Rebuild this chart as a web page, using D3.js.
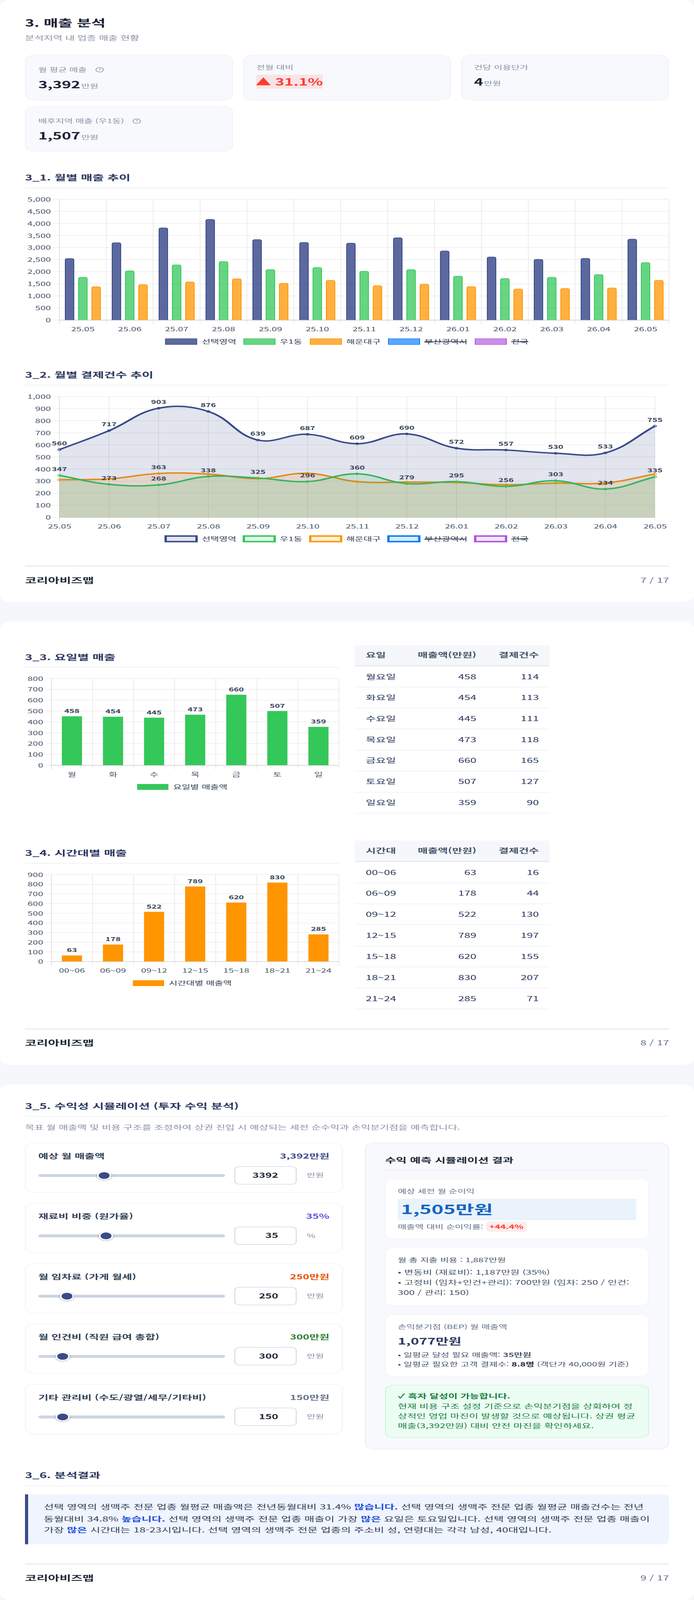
<!DOCTYPE html>
<html lang="ko">
<head>
<meta charset="utf-8">
<title>매출 분석</title>
<script src="https://d3js.org/d3.v7.min.js"></script>
<style>
html, body { margin: 0; padding: 0; background: #f5f7fb; overflow: hidden; }
svg { display: block; font-family: "Noto Sans CJK KR", "Noto Sans", sans-serif; }
.axis path { display: none; }
</style>
</head>
<body>
<script>
// chart data
var months = ["25.05","25.06","25.07","25.08","25.09","25.10","25.11","25.12","26.01","26.02","26.03","26.04","26.05"];
var salesSelected = [2540,3197,3808,4162,3325,3207,3179,3401,2857,2606,2507,2550,3344];
var salesDong = [1764,2034,2280,2422,2086,2171,2015,2086,1816,1717,1764,1878,2374];
var salesGu = [1376,1462,1575,1703,1518,1641,1424,1480,1381,1282,1305,1324,1641];
var countSelected = [560,717,903,876,639,687,609,690,572,557,530,533,755];
var countDong = [347,273,268,338,325,296,360,279,295,256,303,234,335];
var countGu = [311,318,363,358,320,364,295,291,288,270,283,284,358];
var countGuLabelled = ["25.07"]; // the other orange labels are hidden in the report
var legendNames = ["선택영역","우1동","해운대구","부산광역시","전국"];
var salesTicks = [0,500,1000,1500,2000,2500,3000,3500,4000,4500,5000];
var countTicks = [0,100,200,300,400,500,600,700,800,900,1000];

var weekdays = ["월","화","수","목","금","토","일"];
var weekdayNames = ["월요일","화요일","수요일","목요일","금요일","토요일","일요일"];
var weekdaySales = [458,454,445,473,660,507,359];
var weekdayCounts = [114,113,111,118,165,127,90];
var weekdayTicks = [0,100,200,300,400,500,600,700,800];

var hours = ["00~06","06~09","09~12","12~15","15~18","18~21","21~24"];
var hourSales = [63,178,522,789,620,830,285];
var hourCounts = [16,44,130,197,155,207,71];
var hourTicks = [0,100,200,300,400,500,600,700,800,900];

var sliderNames = ["예상 월 매출액","재료비 비중 (원가율)","월 임차료 (가게 월세)","월 인건비 (직원 급여 총합)","기타 관리비 (수도/광열/세무/기타비)"];
var sliderValues = [3392,35,250,300,150];
var sliderMax = [10000,100,2000,3000,1500];
var sliderShown = ["3,392만원","35%","250만원","300만원","150만원"];
var sliderUnits = ["만원","%","만원","만원","만원"];

var NAVY = "#3a4a8a", GREEN = "#34c759", ORANGE = "#ff9500", BLUE = "#007aff", PURPLE = "#af52de";
var TICK = "#475569", LABEL = "#334155";

// drawn in 1776x6604 units; 1:1 in a 6604px window, fitted when the window is shorter
var PAGE_H = 6604;
var svg = d3.select("body").append("svg")
    .attr("width", 1776)
    .attr("height", Math.min(window.innerHeight || PAGE_H, PAGE_H))
    .attr("viewBox", "0 0 1776 " + PAGE_H)
    .attr("preserveAspectRatio", "none");

// small drawing helpers
function box(x, y, w, h, r, fill, stroke, sw) {
    sw = sw || 0;
    return svg.append("rect")
        .attr("x", x + sw / 2).attr("y", y + sw / 2)
        .attr("width", w - sw).attr("height", h - sw)
        .attr("rx", r).attr("ry", r)
        .attr("fill", fill)
        .attr("stroke", stroke || "none").attr("stroke-width", sw);
}

// y is the vertical centre of the line, segs is a string or [text, {weight, color, size}] pairs
function txt(x, y, segs, size, color, weight, anchor, parent) {
    var t = (parent || svg).append("text")
        .attr("x", x).attr("y", y + size * 0.36)
        .attr("font-size", size).attr("fill", color)
        .attr("font-weight", weight || 400)
        .attr("text-anchor", anchor || "start")
        .attr("xml:space", "preserve");
    if (typeof segs === "string") { t.text(segs); return t; }
    segs.forEach(function(s) {
        var sp = t.append("tspan").text(s[0]);
        if (s[1] && s[1].weight) sp.attr("font-weight", s[1].weight);
        if (s[1] && s[1].color) sp.attr("fill", s[1].color);
        if (s[1] && s[1].size) sp.attr("font-size", s[1].size);
    });
    return t;
}

function card(y0, y1) { box(0, y0, 1776, y1 - y0, 28, "#fff"); }

function heading(s, yText, yRule, x1) {
    txt(64, yText, s, 32, "#2c3760", 700);
    box(64, yRule - 1.5, (x1 || 1712) - 64, 3, 0, "#f0f1f6");
}

function footer(page, yRule, yText) {
    box(64, yRule - 1, 1648, 2, 0, "#cbd5e1");
    txt(64, yText, "코리아비즈맵", 32, "#1f2937", 700);
    txt(1712, yText, page, 28, "#64748b", 400, "end");
}

// left axis with little ticks, plus the gridlines
function yAxis(g, y, ticks, left, right, labelGap) {
    var ax = g.append("g").attr("class", "axis")
        .attr("transform", "translate(" + left + ",0)")
        .call(d3.axisLeft(y).tickValues(ticks).tickSize(16).tickPadding(labelGap || 6).tickFormat(d3.format(",")))
        .attr("font-family", null);
    ax.selectAll("text").attr("font-size", 24).attr("fill", TICK).attr("dy", "0.38em");
    ax.selectAll("line").attr("stroke", "#e8e8e8").attr("stroke-width", 2);
    ax.selectAll(".tick").append("line")
        .attr("x2", right - left)
        .attr("stroke", function(d) { return d === 0 ? "#d6d6d6" : "#e9e9e9"; })
        .attr("stroke-width", function(d) { return d === 0 ? 3 : 2; });
    return ax;
}

function bottomLabels(g, x, yBase, dy) {
    var ax = g.append("g").attr("class", "axis")
        .attr("transform", "translate(0," + yBase + ")")
        .call(d3.axisBottom(x).tickSize(0).tickPadding(dy))
        .attr("font-family", null);
    ax.selectAll("text").attr("font-size", 24).attr("fill", TICK);
}

// vertical grid at the band edges, running through the tick zone under the axis
function bandGrid(g, x, top, bottom) {
    var edges = x.domain().map(function(d) { return x(d); }).concat([x.range()[1]]);
    g.selectAll(null).data(edges).enter().append("line")
        .attr("x1", function(d) { return d; }).attr("x2", function(d) { return d; })
        .attr("y1", top).attr("y2", bottom)
        .attr("stroke", function(d, i) { return i === 0 ? "#e0e0e0" : "#ececec"; })
        .attr("stroke-width", 2);
}

function legend(items, y, h, sw) {
    items.forEach(function(it) {
        svg.append("rect")
            .attr("x", it.x + sw / 2).attr("y", y - h / 2 + sw / 2)
            .attr("width", it.w - sw).attr("height", h - sw)
            .attr("fill", it.fill).attr("stroke", it.stroke).attr("stroke-width", sw);
        txt(it.tx, y, it.name, 24, "#334155", 400);
        if (it.strike) box(it.tx, y - 1, it.strike, 3, 0, "#2f3e55");
    });
}

function fade(c, a) { var o = d3.color(c); o.opacity = a; return o + ""; }

// ---- page 1 ----
card(0, 2485);
txt(64, 96, "3. 매출 분석", 40, "#1a2035", 700);
txt(64, 156, "분석지역 내 업종 매출 현황", 26, "#8a93a6", 400);

function kpiCard(x, y) { box(x, y, 532, 188, 24, "#f8f9fd", "#eef0f5", 2); }
function helpIcon(x, y) {
    svg.append("circle").attr("cx", x).attr("cy", y).attr("r", 9.5).attr("fill", "none").attr("stroke", "#8a93a6").attr("stroke-width", 2);
    txt(x, y, "?", 14, "#8a93a6", 500, "middle");
}
kpiCard(64, 226); kpiCard(622, 226); kpiCard(1180, 226); kpiCard(64, 438);
txt(98, 288, "월 평균 매출", 24, "#8a93a6");
helpIcon(255, 288);
txt(98, 350, [["3,392"], [" ", {size: 8}], ["만원", {size: 24, weight: 400, color: "#8a93a6"}]], 40, "#1a2035", 700);
txt(656, 279, "전월 대비", 24, "#8a93a6");
box(656, 308, 170, 58, 0, "#f8e4e6");
txt(654, 338, "▲", 40, "#ff3b30", 700);
txt(704, 338, "31.1%", 40, "#ff3b30", 700);
txt(1213, 279, "건당 이용단가", 24, "#8a93a6");
txt(1213, 339, [["4"], [" ", {size: 6}], ["만원", {size: 24, weight: 400, color: "#8a93a6"}]], 40, "#1a2035", 700);
txt(98, 500, "배후지역 매출 (우1동)", 24, "#8a93a6");
helpIcon(350, 500);
txt(98, 562, [["1,507"], [" ", {size: 8}], ["만원", {size: 24, weight: 400, color: "#8a93a6"}]], 40, "#1a2035", 700);

// 3_1 monthly sales
heading("3_1. 월별 매출 추이", 733, 775.5);
(function() {
    var g = svg.append("g");
    var y = d3.scaleLinear().domain([0, 5000]).range([1320.7, 821.8]);
    var x = d3.scaleBand().domain(months).range([152, 1712]);
    var inner = d3.scaleBand().domain([0, 1, 2]).range([0, 102]);
    var series = [[salesSelected, NAVY, 0.83], [salesDong, GREEN, 0.75], [salesGu, ORANGE, 0.75]];
    bandGrid(g, x, y(5000), 1337);
    yAxis(g, y, salesTicks, 152, 1712);
    bottomLabels(g, x, 1320.7, 30);
    series.forEach(function(s, si) {
        g.selectAll(null).data(s[0]).enter().append("path")
            .attr("fill", fade(s[1], s[2])).attr("stroke", s[1]).attr("stroke-width", 2)
            .attr("d", function(d, i) {
                var bw = 22, r = 6, l = x(months[i]) + 15 + inner(si), t = y(d), b = y(0);
                var p = d3.path();
                p.moveTo(l, b); p.lineTo(l, t + r);
                p.quadraticCurveTo(l, t, l + r, t); p.lineTo(l + bw - r, t);
                p.quadraticCurveTo(l + bw, t, l + bw, t + r); p.lineTo(l + bw, b);
                return p.toString();
            });
    });
    var lx = [[422.5,516.5],[623,716],[793,886],[993,1086],[1215,1308]];
    var cols = [NAVY, GREEN, ORANGE, BLUE, PURPLE], alph = [0.83,0.75,0.75,0.65,0.65];
    legend(legendNames.map(function(n, i) {
        return {x: lx[i][0], w: 82, tx: lx[i][1], name: n, fill: fade(cols[i], alph[i]), stroke: cols[i],
            strike: i === 3 ? 108 : (i === 4 ? 44 : 0)};
    }), 1410, 26, 2);
})();

// Chart.js style bezier (tension 0.4) through the scaled points
function splinePath(pts, base) {
    var t = 0.4, p = d3.path();
    function ctrl(i) {
        var cur = pts[i], prev = pts[i - 1] || cur, next = pts[i + 1] || cur;
        var d01 = Math.hypot(cur[0] - prev[0], cur[1] - prev[1]);
        var d12 = Math.hypot(next[0] - cur[0], next[1] - cur[1]);
        var s = d01 + d12, fa = t * d01 / s, fb = t * d12 / s;
        return {
            px: cur[0] - fa * (next[0] - prev[0]), py: cur[1] - fa * (next[1] - prev[1]),
            nx: cur[0] + fb * (next[0] - prev[0]), ny: cur[1] + fb * (next[1] - prev[1])
        };
    }
    p.moveTo(pts[0][0], pts[0][1]);
    for (var i = 1; i < pts.length; i++) {
        var a = ctrl(i - 1), b = ctrl(i);
        p.bezierCurveTo(a.nx, a.ny, b.px, b.py, pts[i][0], pts[i][1]);
    }
    if (base !== undefined) {
        p.lineTo(pts[pts.length - 1][0], base);
        p.lineTo(pts[0][0], base);
        p.closePath();
    }
    return p.toString();
}

// 3_2 monthly payment counts
heading("3_2. 월별 결제건수 추이", 1547, 1589.5);
(function() {
    var g = svg.append("g");
    var y = d3.scaleLinear().domain([0, 1000]).range([2135.2, 1636.4]);
    var x = d3.scalePoint().domain(months).range([152, 1676]);
    g.selectAll(null).data(months).enter().append("line")
        .attr("x1", function(d) { return x(d); }).attr("x2", function(d) { return x(d); })
        .attr("y1", y(1000)).attr("y2", 2150)
        .attr("stroke", function(d, i) { return i === 0 ? "#e0e0e0" : "#ececec"; }).attr("stroke-width", 2);
    yAxis(g, y, countTicks, 152, 1676);
    bottomLabels(g, x, 2135.2, 29);

    var series = [[countGu, ORANGE], [countDong, GREEN], [countSelected, NAVY]];
    series.forEach(function(s) {
        var pts = s[0].map(function(v, i) { return [x(months[i]), y(v)]; });
        g.append("path").attr("d", splinePath(pts, y(0))).attr("fill", fade(s[1], 0.15));
        g.append("path").attr("d", splinePath(pts)).attr("fill", "none")
            .attr("stroke", s[1]).attr("stroke-width", 6).attr("stroke-linejoin", "round");
    });
    series.forEach(function(s) {
        g.selectAll(null).data(s[0]).enter().append("circle")
            .attr("cx", function(d, i) { return x(months[i]); })
            .attr("cy", function(d) { return y(d); })
            .attr("r", 4).attr("fill", fade(s[1], 0.15)).attr("stroke", s[1]).attr("stroke-width", 2);
    });
    function labels(vals, keep) {
        vals.forEach(function(v, i) {
            if (keep && keep.indexOf(months[i]) < 0) return;
            txt(x(months[i]), y(v) - 26, d3.format(",")(v), 22, LABEL, 600, "middle", g);
        });
    }
    labels(countSelected);
    labels(countDong);
    labels(countGu, countGuLabelled);

    var lx = [[421,516.5],[621,716],[791,886],[991,1086],[1213,1308]];
    var cols = [NAVY, GREEN, ORANGE, BLUE, PURPLE];
    legend(legendNames.map(function(n, i) {
        return {x: lx[i][0], w: 85, tx: lx[i][1], name: n, fill: fade(cols[i], 0.15), stroke: cols[i],
            strike: i === 3 ? 108 : (i === 4 ? 44 : 0)};
    }), 2224, 29, 6);
})();
footer("7 / 17", 2336.5, 2395.5);

// ---- page 2 ----
card(2566, 4395);

// the bars in the report stop a little short of their labels (animation frame)
var BAR_GROWTH = 0.984;

function columnChart(cats, vals, ticks, color, top, bottom, legendName, lg) {
    var g = svg.append("g");
    var y = d3.scaleLinear().domain([0, ticks[ticks.length - 1]]).range([bottom, top]);
    var x = d3.scaleBand().domain(cats).range([131.5, 867.5]);
    bandGrid(g, x, top, bottom + 17);
    yAxis(g, y, ticks, 131.5, 867.5, 5);
    bottomLabels(g, x, bottom, 30);
    var bw = x.bandwidth() * 0.49;
    g.selectAll(null).data(vals).enter().append("rect")
        .attr("x", function(d, i) { return x(cats[i]) + (x.bandwidth() - bw) / 2; })
        .attr("y", function(d) { return y(d * BAR_GROWTH); })
        .attr("width", bw)
        .attr("height", function(d) { return bottom - y(d * BAR_GROWTH); })
        .attr("fill", color);
    vals.forEach(function(v, i) {
        txt(x(cats[i]) + x.bandwidth() / 2, y(v * BAR_GROWTH) - 22, String(v), 22, LABEL, 600, "middle", g);
    });
    box(lg.x, lg.y - 12, 80, 24, 0, color);
    txt(lg.x + 92, lg.y, legendName, 24, "#334155");
}

function sideTable(head, first, a, b, yTop, yHeadBottom, rules) {
    box(908, yTop, 498, yHeadBottom - yTop, 0, "#f5f7fb");
    box(908, yHeadBottom - 4, 498, 4, 0, "#e2e8f0");
    var yh = (yTop + yHeadBottom) / 2 - 2;
    txt(936, yh, head, 28, "#475569", 700);
    txt(1219, yh, "매출액(만원)", 28, "#475569", 700, "end");
    txt(1379, yh, "결제건수", 28, "#475569", 700, "end");
    rules.forEach(function(r, i) {
        var prev = i === 0 ? yHeadBottom : rules[i - 1];
        var yc = (prev + r) / 2;
        box(908, r - 1.5, 498, 3, 0, "#f1f3f7");
        txt(936, yc, first[i], 28, "#2c3760");
        txt(1219, yc, String(a[i]), 28, "#2c3760", 400, "end");
        txt(1379, yc, String(b[i]), 28, "#2c3760", 400, "end");
    });
}

heading("3_3. 요일별 매출", 2712.5, 2753.5, 868);
columnChart(weekdays, weekdaySales, weekdayTicks, GREEN, 2800, 3158.4, "요일별 매출액", {x: 351, y: 3248});
sideTable("요일", weekdayNames, weekdaySales, weekdayCounts, 2662, 2750, [2836,2922.5,3008.5,3096.5,3182.5,3270.5,3356.5]);

heading("3_4. 시간대별 매출", 3520.5, 3563.5, 868);
columnChart(hours, hourSales, hourTicks, ORANGE, 3609.6, 3968.4, "시간대별 매출액", {x: 340, y: 4058});
sideTable("시간대", hours, hourSales, hourCounts, 3470, 3557.5, [3644.5,3730.5,3816.5,3904.5,3990.5,4078.5,4164.5]);
footer("8 / 17", 4247, 4305);

// ---- page 3 ----
card(4476, 6604);
heading("3_5. 수익성 시뮬레이션 (투자 수익 분석)", 4566, 4607.5);
txt(64, 4654, "목표 월 매출액 및 비용 구조를 조정하여 상권 진입 시 예상되는 세전 순수익과 손익분기점을 예측합니다.", 26, "#8a93a6");

var panelTops = [4716, 4965, 5214, 5462.5, 5712.5];
var shownColors = [NAVY, "#5856d6", "#e65100", "#2e7d32", "#64748b"];
var slide = d3.scaleLinear().range([116, 560]);
panelTops.forEach(function(top, i) {
    box(64, top, 813, 207, 24, "#fff", "#eff1f6", 2);
    txt(98, top + 56, sliderNames[i], 28, "#334155", 700);
    txt(843, top + 56, sliderShown[i], 28, shownColors[i], 700, "end");
    var cy = top + 136;
    box(98, cy - 6, 478, 12, 6, "#cbd5e1");
    var sc = slide.copy().domain([0, sliderMax[i]]);
    svg.append("circle").attr("cx", sc(sliderValues[i])).attr("cy", cy).attr("r", 16)
        .attr("fill", NAVY).attr("stroke", "#fff").attr("stroke-width", 4)
        .style("filter", "drop-shadow(0 2px 3px rgba(0,0,0,0.3))");
    box(600, top + 98, 159, 75, 12, "#fff", "#cbd5e1", 2);
    txt(712, cy - 1, String(sliderValues[i]), 28, "#1f2937", 700, "end");
    txt(785, cy - 1, sliderUnits[i], 24, "#8a93a6");
});

box(934, 4716, 778, 1267, 24, "#f8f9fd", "#e8ecf2", 2);
txt(985.5, 4788.5, "수익 예측 시뮬레이션 결과", 30, "#1f2937", 700);
box(985.5, 4829.5, 675, 2, 0, "#e2e8f0");

box(985.5, 4865, 675, 249, 20, "#fff", "#f1f3f7", 2);
txt(1018, 4917, "예상 세전 월 순이익", 24, "#64748b");
box(1018, 4948, 610, 88.5, 0, "#eaf2fb");
txt(1026, 4992.5, "1,505만원", 52, "#1565c0", 700);
txt(1018, 5063, "매출액 대비 순이익률:", 24, "#64748b");
box(1244, 5042, 104, 42, 8, "#fdecec");
txt(1252, 5063, "+44.4%", 24, "#ff3b30", 700);

box(985.5, 5149, 675, 241, 20, "#fff", "#f1f3f7", 2);
txt(1018, 5200, "월 총 지출 비용 : 1,887만원", 24, "#475569");
txt(1018, 5251.5, "• 변동비 (재료비): 1,187만원 (35%)", 26, "#475569");
txt(1018, 5293.5, "• 고정비 (임차+인건+관리): 700만원 (임차: 250 / 인건:", 26, "#475569");
txt(1018, 5335.5, "300 / 관리: 150)", 26, "#475569");

box(985.5, 5425.5, 675, 256, 20, "#fff", "#f1f3f7", 2);
txt(1018, 5477, "손익분기점 (BEP) 월 매출액", 24, "#64748b");
txt(1018, 5536.5, "1,077만원", 36, "#2c3760", 700);
txt(1018, 5593, [["• 일평균 달성 필요 매출액: "], ["35만원", {weight: 700}]], 24, "#475569");
txt(1018, 5631, [["• 일평균 필요한 고객 결제수: "], ["8.8명", {weight: 700, color: "#1f2937"}], [" (객단가 40,000원 기준)"]], 24, "#475569");

box(985.5, 5716.5, 675, 217, 20, "#ecfdf3", "#bbf7d0", 2);
var GOOD = "#15803d";
txt(1018, 5762, "✓ 흑자 달성이 가능합니다.", 26, GOOD, 700);
txt(1018, 5804, "현재 비용 구조 설정 기준으로 손익분기점을 상회하여 정", 26, GOOD);
txt(1018, 5845, "상적인 영업 마진이 발생할 것으로 예상됩니다. 상권 평균", 26, GOOD);
txt(1018, 5886, "매출(3,392만원) 대비 안전 마진을 확인하세요.", 26, GOOD);

heading("3_6. 분석결과", 6090, 6133.5);
svg.append("path").attr("fill", "#eff4ff")
    .attr("d", "M64,6168H1696Q1712,6168 1712,6184V6358Q1712,6374 1696,6374H64Z");
box(64, 6168, 8, 206, 0, NAVY);
var STRONG = {weight: 700, color: "#1d4ed8"}, BODY = "#334155";
txt(112, 6220, [["선택 영역의 생맥주 전문 업종 월평균 매출액은 전년동월대비 31.4% "], ["많습니다.", STRONG], [" 선택 영역의 생맥주 전문 업종 월평균 매출건수는 전년"]], 28, BODY);
txt(112, 6269.5, [["동월대비 34.8% "], ["높습니다.", STRONG], [" 선택 영역의 생맥주 전문 업종 매출이 가장 "], ["많은", STRONG], [" 요일은 토요일입니다. 선택 영역의 생맥주 전문 업종 매출이"]], 28, BODY);
txt(112, 6315, [["가장 "], ["많은", STRONG], [" 시간대는 18-23시입니다. 선택 영역의 생맥주 전문 업종의 주소비 성, 연령대는 각각 남성, 40대입니다."]], 28, BODY);
footer("9 / 17", 6455, 6514);
</script>
</body>
</html>
